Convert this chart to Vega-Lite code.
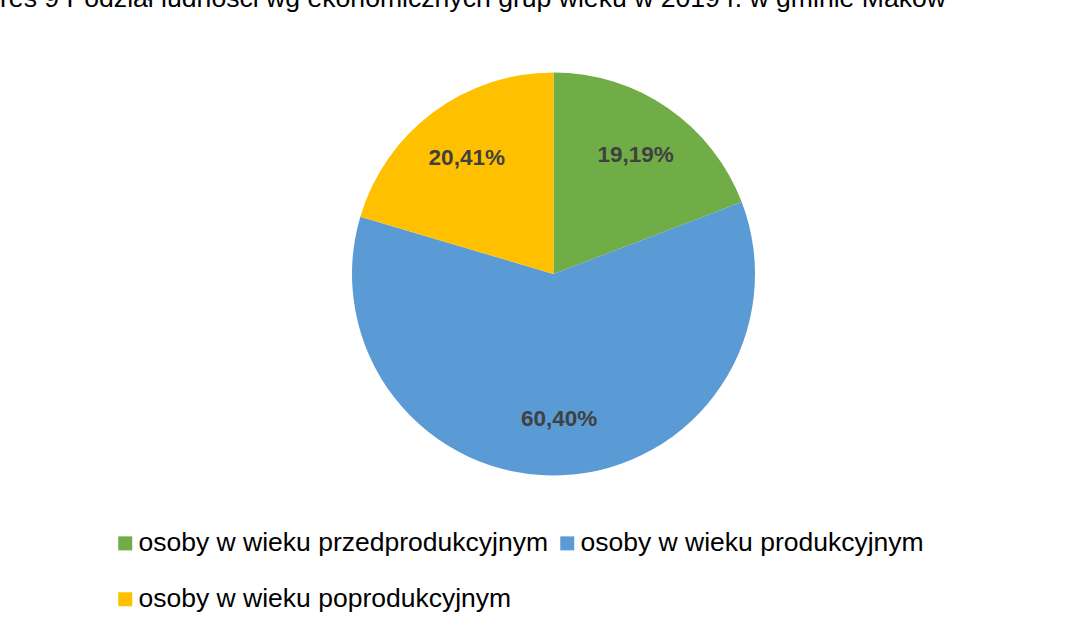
{
  "$schema": "https://vega.github.io/schema/vega-lite/v6.json",
  "autosize": {"type": "none"},
  "padding": {"left": 0, "top": 11, "right": 0, "bottom": 110},
  "width": 1107,
  "height": 526,
  "background": "white",
  "title": {
    "text": "res 9 Podział ludności wg ekonomicznych grup wieku w 2019 r. w gminie Maków",
    "anchor": "start",
    "orient": "top",
    "font": "Liberation Sans",
    "fontSize": 26.6,
    "fontWeight": "normal",
    "color": "#000000",
    "baseline": "alphabetic",
    "offset": 4,
    "dy": 27
  },
  "config": {
    "view": {"stroke": null},
    "locale": {"number": {"decimal": ",", "thousands": " ", "grouping": [3], "currency": ["", " zł"]}}
  },
  "data": {
    "values": [
      {"grupa": "osoby w wieku przedprodukcyjnym", "udzial": 0.1919},
      {"grupa": "osoby w wieku produkcyjnym", "udzial": 0.6040},
      {"grupa": "osoby w wieku poprodukcyjnym", "udzial": 0.2041}
    ]
  },
  "encoding": {
    "theta": {"field": "udzial", "type": "quantitative", "stack": true},
    "order": {"field": "grupa", "type": "nominal", "sort": "descending"}
  },
  "layer": [
    {
      "mark": {"type": "arc", "outerRadius": 201.5, "stroke": null},
      "encoding": {
        "color": {
          "field": "grupa",
          "type": "nominal",
          "scale": {
            "domain": ["osoby w wieku przedprodukcyjnym", "osoby w wieku produkcyjnym", "osoby w wieku poprodukcyjnym"],
            "range": ["#70AD47", "#5B9BD5", "#FFC000"]
          },
          "legend": {
            "title": null,
            "orient": "none",
            "legendX": 112,
            "legendY": 519,
            "direction": "horizontal",
            "columns": 2,
            "padding": 0,
            "labelFont": "Liberation Sans",
            "labelFontSize": 26.5,
            "labelColor": "#000000",
            "labelLimit": 0,
            "labelOffset": 0,
            "symbolType": "square",
            "symbolSize": 196,
            "symbolStrokeWidth": 0,
            "symbolOpacity": 1,
            "rowPadding": 29,
            "columnPadding": 6
          }
        }
      }
    },
    {
      "mark": {
        "type": "text",
        "radius": 145,
        "font": "Liberation Sans",
        "fontSize": 22.5,
        "fontWeight": "bold",
        "color": "#404040"
      },
      "encoding": {
        "text": {"field": "udzial", "type": "quantitative", "format": ".2%"}
      }
    }
  ]
}
